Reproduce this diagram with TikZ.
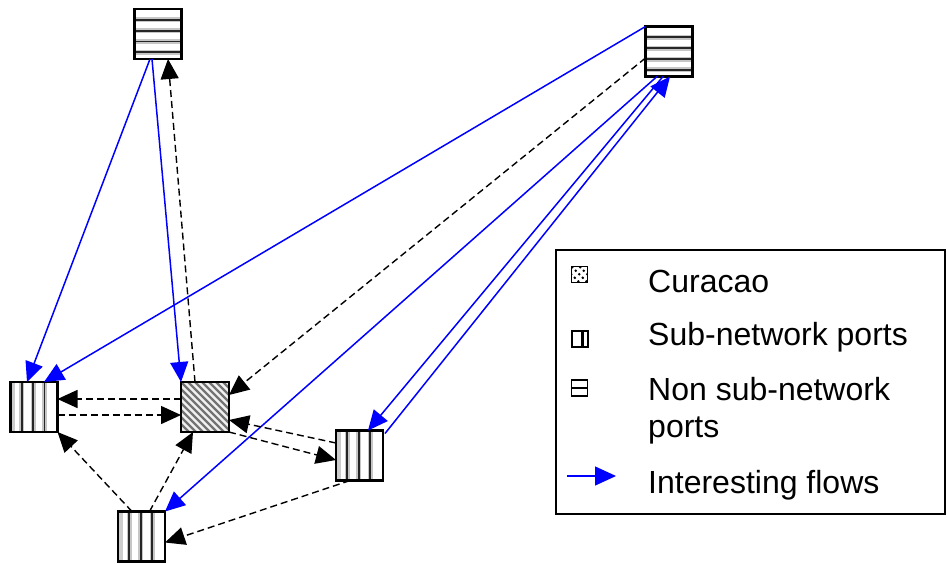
\documentclass[tikz,border=0pt]{standalone}
\usepackage{fontspec}
\setmainfont{Liberation Sans}
\usetikzlibrary{arrows.meta,calc}

% fills and frames for the three kinds of port boxes
\newcommand{\hstripebox}[1]{%
  \begin{scope}[shift={(#1.center)}]
    \fill[white] (-23.5,-25) rectangle (23.5,25);
    \foreach \o in {10.7,21.7,32.5,43.2}{
      \draw[gray!45,line width=5pt] (-23.5,-25+\o) -- (23.5,-25+\o);
      \draw[black!85,line width=1.9pt] (-23.5,-25+\o) -- (23.5,-25+\o);
    }
    \draw[frame] (-23.5,-25) rectangle (23.5,25);
  \end{scope}}
\newcommand{\vstripebox}[1]{%
  \begin{scope}[shift={(#1.center)}]
    \fill[white] (-23.5,-25) rectangle (23.5,25);
    \foreach \o in {11.3,22.7,34}{
      \draw[gray!45,line width=5pt] (-23.5+\o,-25) -- (-23.5+\o,25);
      \draw[black!85,line width=1.9pt] (-23.5+\o,-25) -- (-23.5+\o,25);
    }
    \draw[gray!40,line width=4pt] (-21,-25) -- (-21,25);
    \draw[frame] (-23.5,-25) rectangle (23.5,25);
  \end{scope}}
\newcommand{\hatchbox}[1]{%
  \begin{scope}[shift={(#1.center)}]
    \fill[gray!12] (-24,-25) rectangle (24,25);
    \begin{scope}
      \clip (-24,-25) rectangle (24,25);
      \foreach \k in {-80,-73,...,40}{
        \draw[black!55,line width=2.3pt] (\k,-25) -- (\k+50,25);
      }
    \end{scope}
    \draw[frame] (-24,-25) rectangle (24,25);
  \end{scope}}

\begin{document}
\begin{tikzpicture}[x=1pt,y=-1pt,
  port/.style={minimum width=47pt,minimum height=50pt,inner sep=0pt,outer sep=0pt},
  frame/.style={draw=black,line width=2.4pt},
  tip/.style={-{Triangle[length=20pt,width=18pt]}},
  flow/.style={blue,line width=1.5pt,tip},
  link/.style={black,line width=1.4pt,dash pattern=on 7pt off 4pt,tip},
  legendtext/.style={anchor=base west,inner sep=0pt,font=\fontsize{32}{38}\selectfont},
  icon/.style={draw=black,minimum size=16pt,inner sep=0pt,outer sep=0pt}
]
\useasboundingbox (0,0) rectangle (947,563);

% port boxes
\node[port] (A) at (158,34) {};
\node[port] (B) at (669,51.5) {};
\node[port] (C) at (34,407) {};
\node[port,minimum width=48pt] (D) at (205,407) {};
\node[port] (E) at (359.5,455.5) {};
\node[port] (F) at (141.5,536.5) {};

\hstripebox{A}
\hstripebox{B}
\vstripebox{C}
\vstripebox{E}
\vstripebox{F}
\hatchbox{D}

% interesting flows
\draw[flow] ($(A.south)+(-8,0)$) -- ($(C.north)+(-7,0)$);
\draw[flow] ($(A.south)+(-6,0)$) -- (D.north west);
\draw[flow] (B.north west) -- ($(C.north)+(10,0)$);
\draw[flow] ($(B.south)+(-12,0)$) -- (F.north east);
\draw[flow] ($(B.south)+(-6,0)$) -- ($(E.north)+(8.5,0)$);
\draw[flow] ($(E.north east)+(2,3)$) -- ($(B.south)+(1,0)$);

% other flows
\draw[link] ($(D.north)+(-10,0)$) -- ($(A.south)+(10,0)$);
\draw[link] ($(B.west)+(0,6.5)$) -- ($(D.east)+(0,-12)$);
\draw[link] ($(D.west)+(0,-8)$) -- ($(C.east)+(0,-8)$);
\draw[link] ($(C.east)+(0,8)$) -- ($(D.west)+(0,8)$);
\draw[link] ($(E.west)+(0,-12.5)$) -- ($(D.east)+(0,13)$);
\draw[link] (D.south east) -- ($(E.west)+(0,4.5)$);
\draw[link] ($(F.north)+(-9.5,0)$) -- (C.south east);
\draw[link] ($(F.north)+(8,0)$) -- ($(D.south)+(-12,0)$);
\draw[link] ($(E.south)+(-9.5,0)$) -- ($(F.east)+(0,6)$);

% legend
\node[draw=black,line width=2pt,inner sep=0pt,outer sep=0pt,
      minimum width=389pt,minimum height=264pt,anchor=north west] (key) at (556,250) {};

\node[icon,line width=1.6pt] (kc) at (579.5,274.5) {};
\begin{scope}
  \clip (kc.south west) rectangle (kc.north east);
  \foreach \k in {-24,-16,...,8}{
    \draw[black,line width=1.8pt,dash pattern=on 2pt off 3pt] ($(kc.north west)+(\k,0)$) -- ++(16,16);
  }
\end{scope}
\node[icon,line width=2pt] (ks) at (579.5,339) {};
\draw[line width=2.4pt] ($(ks.north)+(3,0)$) -- ($(ks.south)+(3,0)$);
\node[icon,line width=1.5pt] (kn) at (579.5,388) {};
\draw[line width=1.5pt] (kn.west) -- (kn.east);
\coordinate (ka) at (567,476);
\coordinate (kb) at (616,476);
\draw[blue,line width=1.5pt,-{Triangle[length=21pt,width=19pt]}] (ka) -- (kb);

\node[legendtext] (t1) at (648,292) {Curacao};
\node[legendtext] (t2) at (648,345) {Sub-network ports};
\node[legendtext] (t3) at (648,400) {Non sub-network};
\node[legendtext] (t4) at (648,437) {ports};
\node[legendtext] (t5) at (648,493) {Interesting flows};
\end{tikzpicture}
\end{document}
